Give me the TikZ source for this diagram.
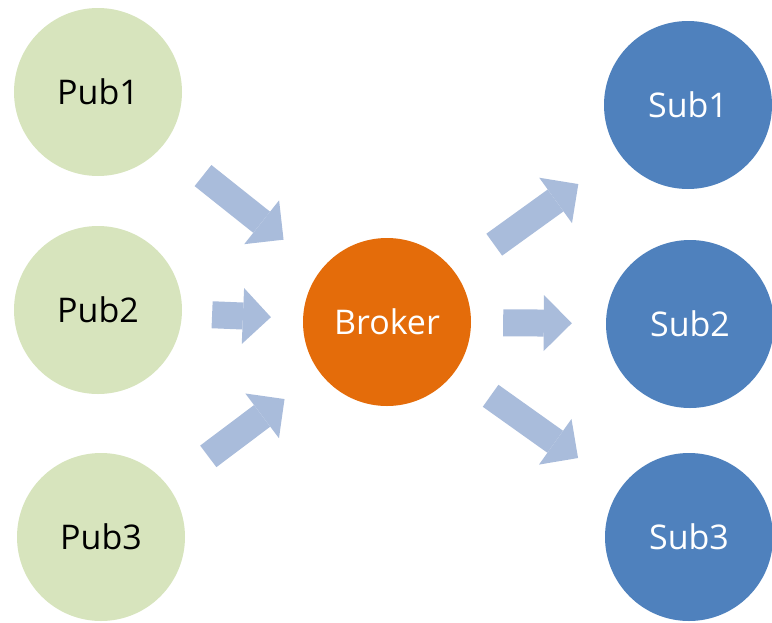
\documentclass[tikz,border=0pt]{standalone}
\usepackage{fontspec}
\setmainfont{Open Sans}
\usetikzlibrary{arrows.meta}
\definecolor{pubgreen}{HTML}{D7E4BD}
\definecolor{brokerorange}{HTML}{E46C0A}
\definecolor{subblue}{HTML}{4F81BD}
\definecolor{arrowblue}{HTML}{A9BCDB}
\begin{document}
\begin{tikzpicture}[x=1pt,y=-1pt,
  ball/.style={circle,minimum size=168pt,inner sep=0pt,font=\fontsize{34}{40}\selectfont},
  pubball/.style={ball,fill=pubgreen,text=black},
  brokerball/.style={ball,fill=brokerorange,text=white},
  subball/.style={ball,fill=subblue,text=white},
  flow/.style={draw=arrowblue,line width=27pt,
    -{Triangle[length=28pt,width=56pt,line width=0pt 0 0]}}
]
\useasboundingbox (0,0) rectangle (772,622);
\node[pubball] (pub1) at (98,92) {Pub1};
\node[pubball] (pub2) at (98,310) {Pub2};
\node[pubball] (pub3) at (101,537) {Pub3};
\node[brokerball] (broker) at (387,322) {Broker};
\node[subball] (sub1) at (688,105) {Sub1};
\node[subball] (sub2) at (690,324) {Sub2};
\node[subball] (sub3) at (689,537) {Sub3};
\draw[flow,shorten <=50pt,shorten >=48pt] (pub1) -- (broker);
\draw[flow,shorten <=30pt,shorten >=32pt] (pub2) -- (broker);
\draw[flow,shorten <=50pt,shorten >=44pt] (pub3) -- (broker);
\draw[flow,shorten <=48pt,shorten >=51pt] (broker) -- (sub1);
\draw[flow,shorten <=32pt,shorten >=34pt] (broker) -- (sub2);
\draw[flow,shorten <=43pt,shorten >=52pt] (broker) -- (sub3);
\end{tikzpicture}
\end{document}
